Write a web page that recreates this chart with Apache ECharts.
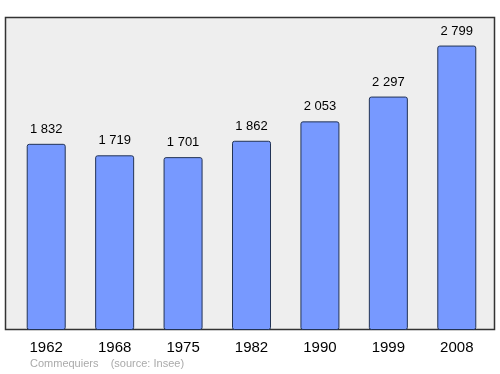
<!DOCTYPE html>
<html><head><meta charset="utf-8">
<script src="https://cdn.jsdelivr.net/npm/echarts@6/dist/echarts.min.js"></script>
<style>html,body{margin:0;padding:0;background:#fff}#c{width:500px;height:374px}</style>
</head><body><div id="c"></div>
<script>
var years = ['1962','1968','1975','1982','1990','1999','2008'];
var population = [1832,1719,1701,1862,2053,2297,2799];
var chart = echarts.init(document.getElementById('c'));
function fmt(v){return String(v).replace(/\B(?=(\d{3})+(?!\d))/g,' ');}
chart.setOption({
  animation:false,
  graphic:[
    {type:'rect',z:-10,shape:{x:5.5,y:17.5,width:489,height:312},style:{fill:'#eeeeee',stroke:'#333333',lineWidth:1.5}},
    {type:'text',left:30,top:358,style:{text:'Commequiers    (source: Insee)',fill:'#aaaaaa',font:'11px "Liberation Sans", Arial, sans-serif'}}
  ],
  grid:{left:12,right:9,top:17,bottom:44},
  xAxis:{type:'category',data:years,
    axisLine:{show:false},axisTick:{show:false},
    axisLabel:{color:'#000',fontSize:15,fontFamily:'"Liberation Sans", Arial, sans-serif',margin:10}},
  yAxis:{type:'value',min:0,max:3080,show:false,splitLine:{show:false}},
  series:[{type:'bar',data:population,barWidth:39,
    itemStyle:{color:'#7799ff',borderColor:'#223355',borderWidth:1,borderRadius:2},
    label:{show:true,position:'top',distance:8,color:'#000',fontSize:13,fontFamily:'"Liberation Sans", Arial, sans-serif',
      formatter:function(p){return fmt(p.value);}}}]
});
</script></body></html>
